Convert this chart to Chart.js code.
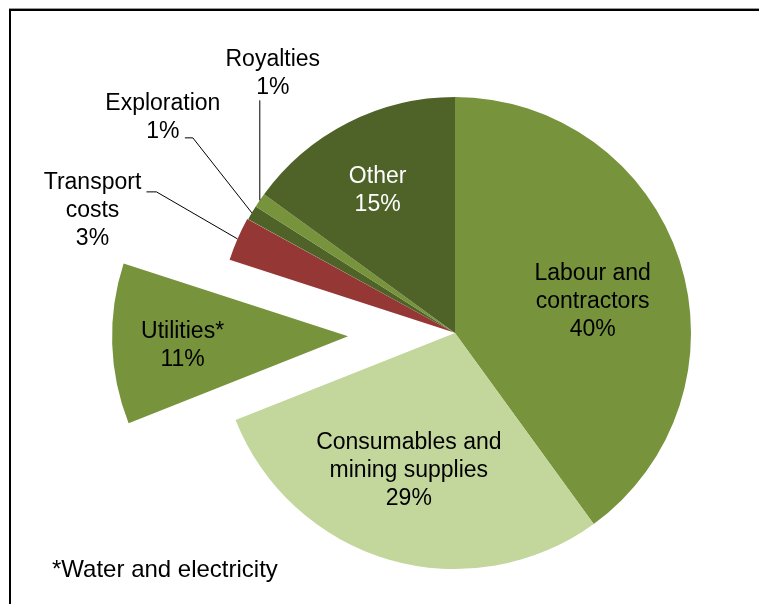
<!DOCTYPE html>
<html><head><meta charset="utf-8">
<script src="https://cdn.jsdelivr.net/npm/chart.js@4/dist/chart.umd.min.js"></script>
<style>html,body{margin:0;padding:0;background:#fff;}canvas{display:block;}</style>
</head><body>
<canvas id="c" width="759" height="604"></canvas>
<script>
// ---- data ----
const categories = ['Labour and contractors', 'Consumables and mining supplies', 'Utilities*', 'Transport costs', 'Exploration', 'Royalties', 'Other'];
const labelLines = [['Labour and', 'contractors'], ['Consumables and', 'mining supplies'], ['Utilities*'], ['Transport', 'costs'], ['Exploration'], ['Royalties'], ['Other']];
const shares = [40, 29, 11, 3, 1, 1, 15];
const footnote = '*Water and electricity';

// ---- styles ----
const colors = ['#77933C', '#C3D69B', '#77933C', '#953735', '#4F6228', '#77933C', '#4F6228'];
const explode = [0, 0, 107, 1, 0, 0, 0];
const labelCfg = [
  {f: 0.60, dx: 3, dy: 12, color: '#000'},
  {f: 0.61, dx: -6, dy: -1, color: '#000'},
  {f: 0.71, dx: 2, dy: 4, color: '#000'},
  {leader: [[-81, -47], [-10, 0]], text: [-54, 18.5], color: '#000'},
  {leader: [[-59, -75], [-8, 0]], text: [-22, -20.5], color: '#000'},
  {leader: [[0, -100]], text: [13, -26.5], color: '#000'},
  {f: 0.685, dx: -4, dy: 2, color: '#fff'}
];
const FONT = '23px "Liberation Sans", Arial, sans-serif';
const LINE_H = 28;

const framePlugin = {
  id: 'frame',
  beforeDraw(chart) {
    const ctx = chart.ctx;
    ctx.save();
    ctx.fillStyle = '#fff';
    ctx.fillRect(0, 0, chart.width, chart.height);
    ctx.strokeStyle = '#999';
    ctx.lineWidth = 1;
    ctx.beginPath(); ctx.moveTo(9, 8.5); ctx.lineTo(chart.width, 8.5); ctx.stroke();
    ctx.strokeStyle = '#000';
    ctx.lineWidth = 2;
    ctx.beginPath();
    ctx.moveTo(10, chart.height); ctx.lineTo(10, 10); ctx.lineTo(chart.width, 10);
    ctx.stroke();
    ctx.restore();
  }
};

const explodePlugin = {
  id: 'explode',
  afterDatasetUpdate(chart, args) {
    args.meta.data.forEach((arc, i) => {
      const d = explode[i];
      if (!d) return;
      const mid = (arc.startAngle + arc.endAngle) / 2;
      arc.x += Math.cos(mid) * d;
      arc.y += Math.sin(mid) * d;
    });
  }
};

const labelPlugin = {
  id: 'sliceLabels',
  afterDatasetsDraw(chart) {
    const ctx = chart.ctx;
    const meta = chart.getDatasetMeta(0);
    ctx.save();
    ctx.font = FONT;
    ctx.textAlign = 'center';
    ctx.textBaseline = 'middle';
    meta.data.forEach((arc, i) => {
      const cfg = labelCfg[i];
      const mid = (arc.startAngle + arc.endAngle) / 2;
      const r = arc.outerRadius;
      const lines = labelLines[i].concat([shares[i] + '%']);
      let cx, cy;
      if (cfg.leader) {
        let x = arc.x + Math.cos(mid) * r;
        let y = arc.y + Math.sin(mid) * r;
        ctx.strokeStyle = '#000';
        ctx.lineWidth = 1;
        ctx.beginPath();
        ctx.moveTo(x, y);
        cfg.leader.forEach(([ldx, ldy]) => { x += ldx; y += ldy; ctx.lineTo(x, y); });
        ctx.stroke();
        cx = x + cfg.text[0];
        cy = y + cfg.text[1];
      } else {
        cx = arc.x + Math.cos(mid) * r * cfg.f + cfg.dx;
        cy = arc.y + Math.sin(mid) * r * cfg.f + cfg.dy;
      }
      ctx.fillStyle = cfg.color;
      const top = cy - (lines.length - 1) * LINE_H / 2;
      lines.forEach((t, k) => ctx.fillText(t, cx, top + k * LINE_H));
    });
    ctx.textAlign = 'left';
    ctx.fillStyle = '#000';
    ctx.font = '24px "Liberation Sans", Arial, sans-serif';
    ctx.fillText(footnote, 52, 570);
    ctx.restore();
  }
};

new Chart(document.getElementById('c'), {
  type: 'pie',
  data: {
    labels: categories,
    datasets: [{
      data: shares,
      backgroundColor: colors,
      borderWidth: 0,
      hoverOffset: 0
    }]
  },
  options: {
    responsive: false,
    devicePixelRatio: 1,
    animation: false,
    radius: 236,
    layout: {padding: {left: 151, right: 0, top: 62, bottom: 0}},
    plugins: {legend: {display: false}, tooltip: {enabled: false}}
  },
  plugins: [framePlugin, explodePlugin, labelPlugin]
});
</script>
</body></html>
